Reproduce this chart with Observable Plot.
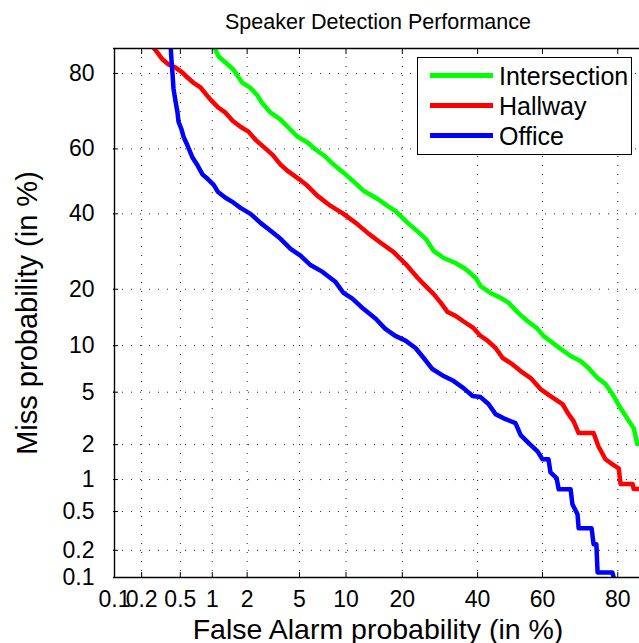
<!DOCTYPE html>
<html>
<head>
<meta charset="utf-8">
<script src="https://cdn.jsdelivr.net/npm/d3@7"></script>
<script src="https://cdn.jsdelivr.net/npm/@observablehq/plot@0.6"></script>
<style>
  html, body { margin: 0; padding: 0; background: #fff; overflow: hidden; }
  #wrap { position: relative; width: 639px; height: 643px; font-family: "Liberation Sans", Arial, sans-serif; }
  #legend { position: absolute; left: 417px; top: 57px; width: 213px; height: 96px; border: 1.5px solid #000; background: #fff; }
  .swatch { position: absolute; left: 12px; width: 63px; height: 4.5px; }
  .ltext { position: absolute; left: 81px; height: 30px; line-height: 30px; font-size: 25px; color: #000; white-space: nowrap; }
</style>
</head>
<body>
<div id="wrap"></div>
<script>
// ---- data (percent) ----
const titleText = "Speaker Detection Performance";
const xLabel = "False Alarm probability (in %)";
const yLabel = "Miss probability (in %)";
const xTicks = [0.1, 0.2, 0.5, 1, 2, 5, 10, 20, 40, 60, 80];
const yTicks = [0.1, 0.2, 0.5, 1, 2, 5, 10, 20, 40, 60, 80];
const axisLimits = [0.1, 85];

const seriesNames = ["Intersection", "Hallway", "Office"];
const seriesColors = ["#00ff00", "#ff0000", "#0000ff"];

const intersectionFA = [1.02, 1.14, 1.31, 1.54, 1.70, 1.83, 2.13, 2.43, 2.66, 3.07, 3.65, 4.18, 4.85, 5.68, 6.43, 7.48, 8.40, 9.66, 11.1, 12.6, 15.0, 16.9, 18.5, 21.2, 24.2, 25.5, 27.5, 30.2, 33.5, 36.4, 39.4, 40.9, 43.9, 47.0, 49.5, 52.6, 55.4, 58.5, 60.3, 63.0, 65.4, 68.2, 70.9, 73.0, 75.3, 77.2, 78.8, 80.6, 82.1, 83.3, 84.0];
const intersectionMiss = [85.6, 83.5, 82.3, 80.8, 79.1, 77.9, 76.7, 74.8, 72.8, 70.4, 68.5, 66.2, 63.6, 61.9, 59.8, 57.6, 55.2, 52.7, 49.9, 47.1, 44.6, 42.4, 40.9, 37.3, 34.1, 32.7, 29.4, 27.5, 26.2, 24.7, 22.6, 20.7, 19.2, 18.2, 17.2, 15.2, 13.8, 12.5, 11.4, 10.4, 9.55, 8.65, 8.05, 7.27, 6.25, 5.69, 4.86, 3.85, 3.18, 2.71, 2.02];

const hallwayFA = [0.255, 0.295, 0.332, 0.382, 0.449, 0.525, 0.587, 0.670, 0.780, 0.868, 0.964, 1.14, 1.31, 1.51, 1.76, 2.05, 2.34, 2.71, 3.18, 3.65, 4.18, 4.93, 5.68, 6.63, 8.05, 9.66, 11.4, 13.5, 15.6, 18.1, 20.7, 23.5, 25.5, 27.5, 29.4, 31.3, 33.5, 36.4, 38.8, 40.9, 43.0, 45.5, 47.7, 50.2, 53.3, 56.4, 59.4, 62.4, 65.9, 67.6, 69.0, 70.4, 74.3, 75.5, 77.2, 78.4, 80.2, 80.6, 83.1, 83.3, 84.6];
const hallwayMiss = [85.6, 84.2, 82.9, 81.9, 81.25, 80.2, 79.1, 77.9, 76.8, 75.3, 73.8, 71.7, 70.4, 68.2, 66.5, 65.1, 62.7, 60.6, 58.2, 55.2, 53.0, 50.8, 48.6, 45.5, 42.4, 40.0, 37.3, 34.1, 31.6, 29.1, 26.0, 22.6, 20.7, 19.0, 17.2, 15.4, 14.7, 13.5, 12.6, 11.4, 10.7, 9.68, 8.41, 7.82, 6.94, 6.25, 5.26, 4.70, 4.12, 3.47, 3.07, 2.48, 2.48, 1.94, 1.51, 1.40, 1.26, 0.91, 0.91, 0.82, 0.82];

const officeFA = [0.40, 0.409, 0.418, 0.428, 0.449, 0.469, 0.48, 0.514, 0.537, 0.587, 0.657, 0.733, 0.816, 0.906, 1.03, 1.12, 1.31, 1.54, 1.76, 2.13, 2.56, 3.07, 3.65, 4.32, 5.08, 5.95, 7.15, 8.65, 9.66, 10.9, 12.6, 14.7, 16.5, 18.5, 20.7, 23.0, 25.0, 27.2, 30.2, 33.0, 35.8, 38.5, 40.9, 43.3, 45.5, 48.6, 51.7, 53.3, 55.8, 58.5, 60.0, 61.8, 62.4, 64.2, 64.8, 68.2, 68.7, 70.1, 70.4, 73.8, 74.3, 75.0, 75.3, 78.8, 79.1];
const officeMiss = [85.6, 82.7, 80.0, 76.5, 73.3, 70.4, 67.9, 65.7, 63.6, 61.0, 57.3, 54.9, 52.1, 50.8, 48.9, 46.8, 44.9, 43.4, 41.8, 40.0, 37.3, 35.0, 32.7, 29.9, 28.1, 25.7, 24.0, 21.6, 19.2, 18.0, 16.0, 14.2, 12.5, 11.4, 10.7, 9.68, 8.41, 7.16, 6.44, 5.96, 5.34, 4.70, 4.62, 4.12, 3.47, 3.18, 2.97, 2.39, 2.06, 1.76, 1.51, 1.51, 1.16, 1.03, 0.816, 0.816, 0.589, 0.47, 0.34, 0.34, 0.232, 0.232, 0.114, 0.114, 0.1];

// ---- probit (inverse normal CDF, Acklam) ----
function probit(p) {
  const a = [-3.969683028665376e+01, 2.209460984245205e+02, -2.759285104469687e+02, 1.383577518672690e+02, -3.066479806614716e+01, 2.506628277459239e+00];
  const b = [-5.447609879822406e+01, 1.615858368580409e+02, -1.556989798598866e+02, 6.680131188771972e+01, -1.328068155288572e+01];
  const c = [-7.784894002430293e-03, -3.223964580411365e-01, -2.400758277161838e+00, -2.549671348283960e+00, 4.374664141464968e+00, 2.938163982698783e+00];
  const d = [7.784695709041462e-03, 3.224671290700398e-01, 2.445134137142996e+00, 3.754408661907416e+00];
  const plow = 0.02425, phigh = 1 - plow;
  let q, r;
  if (p < plow) {
    q = Math.sqrt(-2 * Math.log(p));
    return (((((c[0]*q+c[1])*q+c[2])*q+c[3])*q+c[4])*q+c[5]) / ((((d[0]*q+d[1])*q+d[2])*q+d[3])*q+1);
  } else if (p <= phigh) {
    q = p - 0.5; r = q*q;
    return (((((a[0]*r+a[1])*r+a[2])*r+a[3])*r+a[4])*r+a[5])*q / (((((b[0]*r+b[1])*r+b[2])*r+b[3])*r+b[4])*r+1);
  } else {
    q = Math.sqrt(-2 * Math.log(1 - p));
    return -(((((c[0]*q+c[1])*q+c[2])*q+c[3])*q+c[4])*q+c[5]) / ((((d[0]*q+d[1])*q+d[2])*q+d[3])*q+1);
  }
}
const pz = v => probit(v / 100);

const series = [
  {name: seriesNames[0], fa: intersectionFA, miss: intersectionMiss, color: seriesColors[0]},
  {name: seriesNames[1], fa: hallwayFA, miss: hallwayMiss, color: seriesColors[1]},
  {name: seriesNames[2], fa: officeFA, miss: officeMiss, color: seriesColors[2]}
];
const rows = series.flatMap(s => s.fa.map((f, i) => ({series: s.name, fa: f, miss: s.miss[i]})));

const xTickZ = xTicks.map(pz);
const yTickZ = yTicks.map(pz);
const xLab = new Map(xTickZ.map((z, i) => [z, String(xTicks[i])]));
const yLab = new Map(yTickZ.map((z, i) => [z, String(yTicks[i])]));
const lo = pz(axisLimits[0]), hi = pz(axisLimits[1]);

const font = '"Liberation Sans", Arial, Helvetica, sans-serif';
const gridStyle = {stroke: "#000", strokeOpacity: 0.85, strokeWidth: 1, strokeDasharray: "1,8"};

const chart = Plot.plot({
  width: 639,
  height: 643,
  marginLeft: 113,
  marginRight: 0,
  marginTop: 48,
  marginBottom: 66,
  style: {fontFamily: font, background: "#fff", color: "#000"},
  x: {domain: [lo, hi], range: [114, 642.2]},
  y: {domain: [lo, hi], range: [577, 48]},
  marks: [
    Plot.gridX(xTickZ, gridStyle),
    Plot.gridY(yTickZ, gridStyle),
    Plot.axisX(xTickZ, {anchor: "bottom", tickSize: -5, fill: "none", label: null, strokeWidth: 1}),
    Plot.axisX(xTickZ, {anchor: "top", tickSize: -5, fill: "none", label: null, strokeWidth: 1}),
    Plot.axisY(yTickZ, {anchor: "left", tickSize: -5, fill: "none", label: null, strokeWidth: 1}),
    Plot.axisX(xTickZ, {anchor: "bottom", tickSize: 0, tickPadding: 13, fontSize: 23, tickFormat: z => xLab.get(z), label: null}),
    Plot.axisY(yTickZ, {anchor: "left", tickSize: 0, tickPadding: 19, fontSize: 23, tickFormat: z => yLab.get(z), label: null}),
    ...series.map(s => Plot.line(rows.filter(r => r.series === s.name), {
      x: d => pz(d.fa), y: d => pz(d.miss),
      stroke: s.color, strokeWidth: 4.5, strokeLinejoin: "round", clip: true
    })),
    Plot.ruleX([lo], {stroke: "#000", strokeWidth: 1.4}),
    Plot.ruleY([lo, hi], {stroke: "#000", strokeWidth: 1.4}),
    Plot.text([titleText], {frameAnchor: "top", textAnchor: "middle", lineAnchor: "bottom", dy: -20, dx: 1.5, fontSize: 21.5, fill: "#000"}),
    Plot.text([xLabel], {frameAnchor: "bottom", textAnchor: "middle", lineAnchor: "bottom", dy: 61, dx: 1.5, fontSize: 28.5, fill: "#000"}),
    Plot.text([yLabel], {frameAnchor: "left", textAnchor: "middle", lineAnchor: "bottom", rotate: -90, dx: -77, fontSize: 29, fill: "#000"})
  ]
});

const wrap = document.getElementById("wrap");
wrap.appendChild(chart);

// legend
const legend = document.createElement("div");
legend.id = "legend";
series.forEach((s, i) => {
  const cy = 17.5 + i * 30;
  const sw = document.createElement("div");
  sw.className = "swatch";
  sw.style.top = (cy - 2.25) + "px";
  sw.style.background = s.color;
  legend.appendChild(sw);
  const t = document.createElement("div");
  t.className = "ltext";
  t.style.top = (cy - 15) + "px";
  t.textContent = s.name;
  legend.appendChild(t);
});
wrap.appendChild(legend);
</script>
</body>
</html>
